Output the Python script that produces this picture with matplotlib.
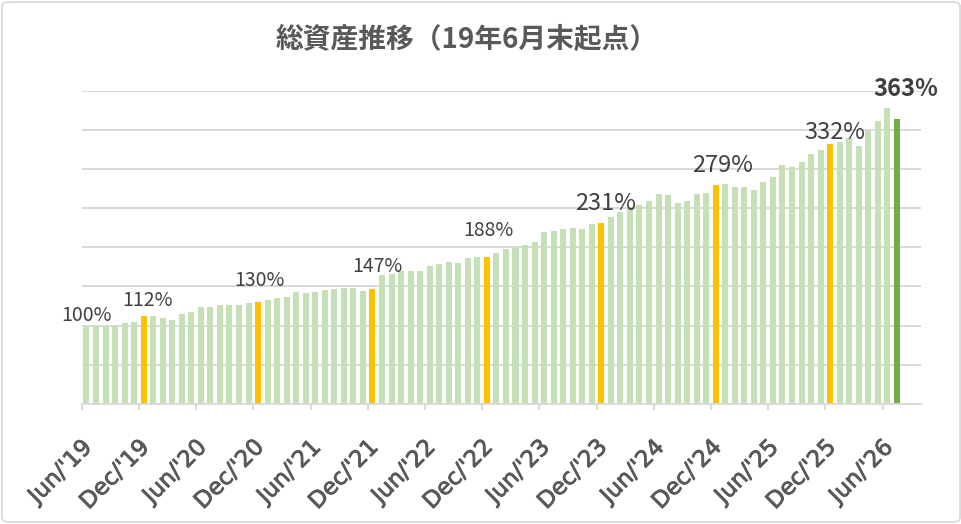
import matplotlib
matplotlib.use("Agg")
import matplotlib.pyplot as plt
import matplotlib.transforms as mtransforms
import matplotlib.patheffects as pe
from matplotlib.patches import FancyBboxPatch
import pandas as pd

plt.rcParams['font.family'] = ['Noto Sans CJK JP', 'DejaVu Sans']

# monthly total assets, Jun 2019 = 100%
values = [
    100, 100, 100, 100, 103.4, 104.7, 112, 111.8, 109.8, 107.3,
    115.4, 117.6, 124.0, 124.0, 125.7, 125.7, 125.7, 128.3, 130, 133.0,
    134.7, 136.0, 143.3, 142.0, 143.3, 145.0, 146.3, 148, 148, 144.5,
    147, 164, 166.4, 170.2, 170.2, 170.2, 176.7, 179.2, 181.8, 180.5,
    185.7, 187.8, 188, 192.1, 197.2, 198.9, 202.4, 206.2, 219.1, 220.3,
    222.9, 224.2, 222.9, 229.3, 231, 238.3, 244.8, 250.8, 253.8, 258.9,
    267.9, 266.6, 256.7, 258.9, 267.9, 269.2, 279, 280.8, 276.9, 276.9,
    273.0, 283.4, 289.8, 305.2, 302.6, 309.0, 319.3, 324.4, 332, 334.7,
    339.8, 329.5, 348.8, 361.7, 377.1, 363,
]
months = pd.date_range('2019-06-01', periods=len(values), freq='MS')
tick_labels = ["Jun/'19", "Dec/'19", "Jun/'20", "Dec/'20", "Jun/'21", "Dec/'21",
               "Jun/'22", "Dec/'22", "Jun/'23", "Dec/'23", "Jun/'24", "Dec/'24",
               "Jun/'25", "Dec/'25", "Jun/'26"]
n_slots = 88  # axis runs two empty months past the last bar

LIGHT = '#C5E0B4'
ORANGE = '#FFC000'
DARK = '#70AD47'
GRID = '#D9D9D9'

colors = []
for i, m in enumerate(months):
    if i == len(values) - 1:
        colors.append(DARK)
    elif m.month == 12:
        colors.append(ORANGE)
    else:
        colors.append(LIGHT)

labelled = [0] + [i for i, m in enumerate(months) if m.month == 12] + [len(values) - 1]
# label offsets from bar top (px): dx, gap, font size
label_style = {0: (0, 5, 14), 6: (4, 10, 14), 18: (1, 16, 14), 30: (5, 17, 14),
               42: (1.5, 21, 14), 54: (4, 13, 17), 66: (6.5, 13, 17),
               78: (4.5, 5, 17), 85: (9, 23, 17)}

fig = plt.figure(figsize=(9.62, 5.24), dpi=100)
ax = fig.add_axes([81.7 / 962, 1 - 404 / 524, (920.7 - 81.7) / 962, (404 - 90.5) / 524])

x = list(range(len(values)))
ax.bar(x, values, width=0.63, color=colors, zorder=2)

ax.set_xlim(-0.5, n_slots - 0.5)
ax.set_ylim(0, 400)
ax.set_yticks(range(0, 401, 50))
ax.yaxis.set_tick_params(length=0, labelleft=False)
ax.grid(axis='y', color=GRID, linewidth=1.4, zorder=0)
ax.set_axisbelow(True)

for s in ['top', 'right', 'left']:
    ax.spines[s].set_visible(False)
ax.spines['bottom'].set_color(GRID)
ax.spines['bottom'].set_linewidth(1.4)
ax.spines['bottom'].set_zorder(3)

tick_pos = [6 * k - 0.5 for k in range(len(tick_labels))]
ax.set_xticks(tick_pos)
ax.set_xticklabels(tick_labels, rotation=45, ha='right', va='center',
                   rotation_mode='anchor', fontsize=16.5, color='#595959',
                   family='DejaVu Sans')
ax.tick_params(axis='x', length=4.5, width=1.4, color=GRID, pad=24)
shift = mtransforms.ScaledTranslation(7 / 100, 0, fig.dpi_scale_trans)
for lab in ax.get_xticklabels():
    lab.set_transform(lab.get_transform() + shift)
    # a bit heavier, like the original label font
    lab.set_path_effects([pe.withStroke(linewidth=0.6, foreground='#595959')])

for i in labelled:
    dx, gap, size = label_style[i]
    bold = i == len(values) - 1
    ax.annotate(f'{values[i]:.0f}%', (x[i], values[i]),
                xytext=(dx * 0.72, gap * 0.72), textcoords='offset points',
                ha='center', va='baseline', fontsize=size,
                color='#404040', fontweight='bold' if bold else 'normal')

fig.text(467 / 962, 1 - 40 / 524, '総資産推移（19年6月末起点）', ha='center', va='center',
         fontsize=20, fontweight='bold', color='#595959')

border = FancyBboxPatch((2 / 962, 2 / 524), 958 / 962, 520 / 524,
                        boxstyle='round,pad=0,rounding_size=0.008',
                        transform=fig.transFigure, fill=False,
                        edgecolor=GRID, linewidth=1.3)
fig.patches.append(border)

fig.savefig('out.png', dpi=100)
